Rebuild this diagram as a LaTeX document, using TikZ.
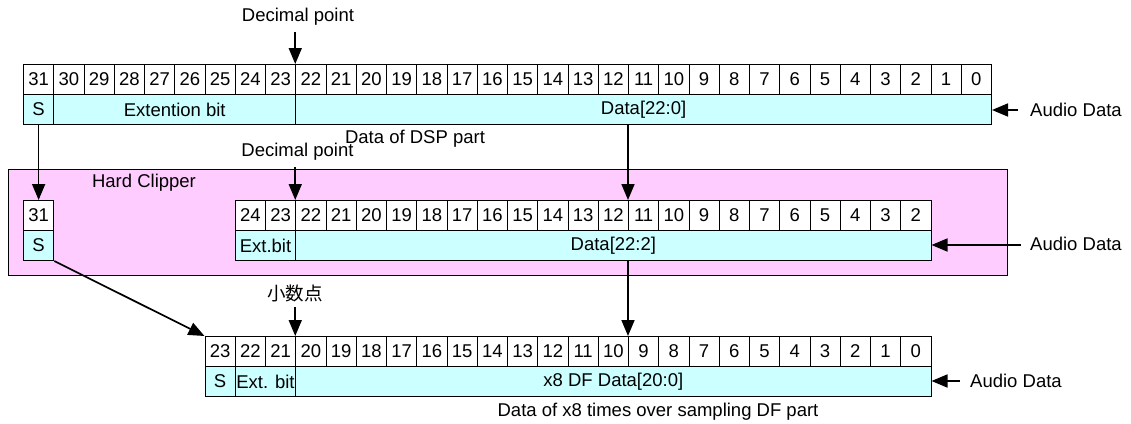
\documentclass[tikz,border=0pt]{standalone}
\usepackage{fontspec}
\setmainfont{Liberation Sans}
\newfontfamily\cjkfont{Noto Sans CJK JP}
\usetikzlibrary{arrows.meta}
\definecolor{cyanfill}{RGB}{204,255,255}
\definecolor{pinkfill}{RGB}{255,204,255}
\begin{document}
\begin{tikzpicture}[x=1pt,y=-1pt,
  font=\fontsize{18.5}{20}\selectfont,
  cell/.style={draw=black,line width=1pt,fill=white,minimum height=30pt,minimum width=30.25pt,inner sep=0pt,anchor=north west},
  field/.style={draw=black,line width=1pt,fill=cyanfill,minimum height=30pt,inner sep=0pt,anchor=north west},
  arr/.style={line width=1.7pt,-{Triangle[length=16pt,width=13pt]}},
  lbl/.style={inner sep=0pt}]
\useasboundingbox (0,0) rectangle (1131,423);
% top register
\foreach \b in {31,...,0} \node[cell] (t\b) at ({23+(31-\b)*30.25},64) {\b};
\node[field,minimum width=30.25pt] (tS) at (23,94) {S};
\node[field,minimum width=242pt] (tExt) at (53.25,94) {Extention bit};
\node[field,minimum width=695.75pt] (tData) at (295.25,94) {Data[22:0]};
\node[lbl] (dp1) at (298,17) {Decimal point};
\coordinate (dp1s) at (295.25,32);
\node[lbl,anchor=west] (ad1) at (1030,110) {Audio Data};
\coordinate (ad1s) at (1018,110);
\node[lbl] (dsp) at (415,139) {Data of DSP part};
% hard clipper
\node[draw=black,fill=pinkfill,line width=1pt,minimum width=998.7pt,minimum height=106pt,anchor=north west,inner sep=0pt] (hc) at (8,169) {};
\node[lbl] (hcl) at (144,183) {Hard Clipper};
\node[lbl] (dp2) at (297.5,152) {Decimal point};
\coordinate (dp2s) at (295.25,167);
\node[cell] (m31) at (23,200) {31};
\node[field,minimum width=30.25pt] (mS) at (23,230) {S};
\foreach \b in {24,...,2} \node[cell] (m\b) at ({23+(31-\b)*30.25},200) {\b};
\node[field,minimum width=60.5pt] (mExt) at (234.75,230) {Ext.bit};
\node[field,minimum width=635.25pt] (mData) at (295.25,230) {Data[22:2]};
\node[lbl,anchor=west] (ad2) at (1030,244) {Audio Data};
\coordinate (ad2s) at (1021,245);
% bottom register
\node[lbl] (dp3) at (295,293) {\cjkfont 小数点};
\coordinate (dp3s) at (295.25,307);
\foreach \b in {23,...,0} \node[cell] (b\b) at ({23+(29-\b)*30.25},336) {\b};
\node[field,minimum width=30.25pt] (bS) at (204.5,366) {S};
\node[field,minimum width=60.5pt] (bExt) at (234.75,366) {Ext. bit};
\node[field,minimum width=635.25pt] (bData) at (295.25,366) {x8 DF Data[20:0]};
\node[lbl,anchor=west] (ad3) at (970,381) {Audio Data};
\coordinate (ad3s) at (960,381);
\node[lbl] (dfp) at (658,412) {Data of x8 times over sampling DF part};
% arrows
\draw[arr] (dp1s) -- (t22.north west);
\draw[arr] (dp2s) -- (m22.north west);
\draw[arr] (dp3s) -- (b20.north west);
\draw[arr] (ad1s) -- (ad1s -| tData.east);
\draw[arr] (ad2s) -- (ad2s -| mData.east);
\draw[arr] (ad3s) -- (ad3s -| bData.east);
\draw[arr] (tS.south) -- (m31.north);
\draw[arr] (tData.south -| m11.north west) -- (m11.north west);
\draw[arr] (mData.south -| b9.north west) -- (b9.north west);
\draw[arr] (mS.south east) -- (b23.north west);
\end{tikzpicture}
\end{document}
